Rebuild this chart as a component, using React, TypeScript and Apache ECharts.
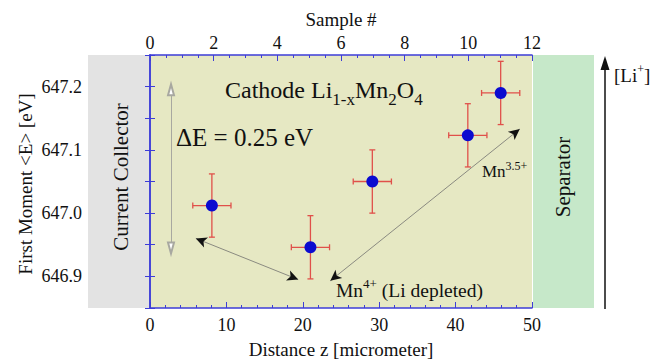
import React, { useEffect, useRef } from "react";
import * as echarts from "echarts";

// ---- data ----
const distance = [8.1, 21.0, 29.1, 41.6, 45.9]; // micrometer
const energy = [647.012, 646.946, 647.05, 647.123, 647.19]; // eV
const distanceErr = [2.5, 2.5, 2.5, 2.5, 2.5];
const energyErr = [0.05, 0.05, 0.05, 0.05, 0.05];

const distanceRange = [0, 50];
const sampleRange = [0, 12];
const energyRange = [646.85, 647.25];

// annotation arrows (data coordinates)
const arrowLower = [[6.0, 646.96], [19.4, 646.895]];
const arrowUpper = [[23.6, 646.893], [48.4, 647.133]];
const deltaEArrow = [[2.75, 646.945], [2.75, 647.195]];

const SERIF = "'Liberation Serif', 'Times New Roman', serif";
const BLUE_AXIS = "#3d3dd8";

export default function App() {
  const ref = useRef<HTMLDivElement>(null);

  useEffect(() => {
    if (!ref.current) return;
    const chart = echarts.init(ref.current, undefined, { renderer: "svg" });

    const errData = distance.map((d, i) => [d, energy[i], distanceErr[i], energyErr[i]]);
    const ptData = distance.map((d, i) => [d, energy[i]]);

    const axisCommon = {
      axisLine: { show: true, lineStyle: { color: BLUE_AXIS, width: 1.5 } },
      splitLine: { show: false },
      axisLabel: { fontFamily: SERIF, fontSize: 18, color: "#111" },
    };

    const arrowPairs = [
      [{ coord: arrowLower[0] }, { coord: arrowLower[1] }],
      [{ coord: arrowUpper[0] }, { coord: arrowUpper[1] }],
    ];

    const option: any = {
      animation: false,
      backgroundColor: "#ffffff",
      grid: {
        left: 150,
        right: 134,
        top: 55,
        bottom: 51,
        show: true,
        backgroundColor: "#e6e8c3",
        borderWidth: 0,
      },
      xAxis: [
        {
          ...axisCommon,
          type: "value",
          position: "bottom",
          min: distanceRange[0],
          max: distanceRange[1],
          interval: 10,
          axisTick: { show: true, inside: true, length: 6, lineStyle: { color: BLUE_AXIS } },
          minorTick: { show: true, splitNumber: 5, length: 3, lineStyle: { color: BLUE_AXIS } },
          axisLabel: { ...axisCommon.axisLabel, margin: 8 },
        },
        {
          ...axisCommon,
          type: "value",
          position: "top",
          min: sampleRange[0],
          max: sampleRange[1],
          interval: 2,
          axisTick: { show: true, inside: true, length: 6, lineStyle: { color: BLUE_AXIS } },
          minorTick: { show: true, splitNumber: 4, length: 3, lineStyle: { color: BLUE_AXIS } },
          axisLabel: { ...axisCommon.axisLabel, margin: 3 },
        },
      ],
      yAxis: [
        {
          ...axisCommon,
          type: "value",
          position: "left",
          min: energyRange[0],
          max: energyRange[1],
          interval: 0.05,
          axisTick: { show: true, inside: true, length: 5, lineStyle: { color: BLUE_AXIS } },
          axisLabel: {
            ...axisCommon.axisLabel,
            margin: 68,
            formatter: (v: number) => {
              const r = Math.round(v * 100);
              if (r % 10 !== 0) return "";
              if (r <= Math.round(energyRange[0] * 100) || r >= Math.round(energyRange[1] * 100)) return "";
              return (r / 100).toFixed(1);
            },
          },
        },
        {
          ...axisCommon,
          type: "value",
          position: "right",
          min: energyRange[0],
          max: energyRange[1],
          interval: 0.05,
          axisTick: { show: true, inside: true, length: 5, lineStyle: { color: BLUE_AXIS } },
          axisLabel: { show: false },
        },
      ],
      graphic: [
        // side panels
        { type: "rect", shape: { x: 88, y: 55, width: 62, height: 253 }, style: { fill: "#e3e3e3" }, z: -10, silent: true },
        { type: "rect", shape: { x: 533, y: 55, width: 61, height: 253 }, style: { fill: "#c6e8c9" }, z: -10, silent: true },
        // Li+ arrow
        { type: "line", shape: { x1: 605, y1: 309, x2: 605, y2: 66 }, style: { stroke: "#111", lineWidth: 1.5 } },
        { type: "polygon", shape: { points: [[605, 56], [600.5, 70], [609.5, 70]] }, style: { fill: "#111" } },
        {
          type: "text",
          x: 614,
          y: 62.5,
          style: {
            text: "[Li{sup|+}]",
            fontFamily: SERIF,
            fontSize: 19,
            lineHeight: 26,
            fill: "#111",
            verticalAlign: "top",
            rich: { sup: { fontFamily: SERIF, fontSize: 12, lineHeight: 6, verticalAlign: "top", fill: "#111" } },
          },
        },
        // axis names
        {
          type: "text",
          x: 341,
          y: 19,
          style: { text: "Sample #", fontFamily: SERIF, fontSize: 19, fill: "#111", align: "center", verticalAlign: "middle" },
        },
        {
          type: "text",
          x: 341,
          y: 349,
          style: { text: "Distance z [micrometer]", fontFamily: SERIF, fontSize: 19, fill: "#111", align: "center", verticalAlign: "middle" },
        },
        {
          type: "text",
          x: 25,
          y: 184,
          rotation: Math.PI / 2,
          style: { text: "First Moment <E> [eV]", fontFamily: SERIF, fontSize: 19, fill: "#111", align: "center", verticalAlign: "middle" },
        },
        {
          type: "text",
          x: 121,
          y: 177,
          rotation: Math.PI / 2,
          style: { text: "Current Collector", fontFamily: SERIF, fontSize: 21, fill: "#111", align: "center", verticalAlign: "middle" },
        },
        {
          type: "text",
          x: 563,
          y: 177,
          rotation: Math.PI / 2,
          style: { text: "Separator", fontFamily: SERIF, fontSize: 21, fill: "#111", align: "center", verticalAlign: "middle" },
        },
        // in-plot annotations
        {
          type: "text",
          x: 225,
          y: 72,
          z: 100,
          style: {
            text: "Cathode Li{sub|1-x}Mn{sub|2}O{sub|4}",
            fontFamily: SERIF,
            fontSize: 24,
            lineHeight: 36,
            fill: "#111",
            verticalAlign: "top",
            rich: { sub: { fontFamily: SERIF, fontSize: 17, lineHeight: 4, verticalAlign: "bottom", fill: "#111" } },
          },
        },
        {
          type: "text",
          x: 176,
          y: 137,
          z: 100,
          style: { text: "\u0394E = 0.25 eV", fontFamily: SERIF, fontSize: 25, fill: "#111", verticalAlign: "middle" },
        },
        {
          type: "text",
          x: 336,
          y: 277,
          z: 100,
          style: {
            text: "Mn{sup|4+} (Li depleted)",
            fontFamily: SERIF,
            fontSize: 19.5,
            lineHeight: 27,
            fill: "#111",
            verticalAlign: "top",
            rich: { sup: { fontFamily: SERIF, fontSize: 13, lineHeight: 6, verticalAlign: "top", fill: "#111" } },
          },
        },
        {
          type: "text",
          x: 482,
          y: 160,
          z: 100,
          style: {
            text: "Mn{sup|3.5+}",
            fontFamily: SERIF,
            fontSize: 17,
            lineHeight: 22,
            fill: "#111",
            verticalAlign: "top",
            rich: { sup: { fontFamily: SERIF, fontSize: 12, lineHeight: 5, verticalAlign: "top", fill: "#111" } },
          },
        },
      ],
      series: [
        {
          type: "custom",
          xAxisIndex: 0,
          yAxisIndex: 0,
          data: errData,
          encode: { x: 0, y: 1 },
          z: 3,
          silent: true,
          renderItem: (params: any, api: any) => {
            const x = api.value(0);
            const y = api.value(1);
            const xe = api.value(2);
            const ye = api.value(3);
            const l = api.coord([x - xe, y]);
            const r = api.coord([x + xe, y]);
            const t = api.coord([x, y + ye]);
            const b = api.coord([x, y - ye]);
            const cap = 3;
            const st = { stroke: "#e0504a", lineWidth: 1.3 };
            return {
              type: "group",
              children: [
                { type: "line", shape: { x1: l[0], y1: l[1], x2: r[0], y2: r[1] }, style: st },
                { type: "line", shape: { x1: t[0], y1: t[1], x2: b[0], y2: b[1] }, style: st },
                { type: "line", shape: { x1: l[0], y1: l[1] - cap, x2: l[0], y2: l[1] + cap }, style: st },
                { type: "line", shape: { x1: r[0], y1: r[1] - cap, x2: r[0], y2: r[1] + cap }, style: st },
                { type: "line", shape: { x1: t[0] - cap, y1: t[1], x2: t[0] + cap, y2: t[1] }, style: st },
                { type: "line", shape: { x1: b[0] - cap, y1: b[1], x2: b[0] + cap, y2: b[1] }, style: st },
              ],
            };
          },
        },
        {
          type: "scatter",
          xAxisIndex: 0,
          yAxisIndex: 0,
          data: ptData,
          symbol: "circle",
          symbolSize: 12,
          itemStyle: { color: "#0b0bd0", opacity: 1 },
          z: 5,
          silent: true,
          markLine: {
            silent: true,
            symbol: ["none", "none"],
            label: { show: false },
            lineStyle: { color: "#8a8a80", width: 1, type: "solid" },
            data: arrowPairs,
          },
        },
        {
          type: "scatter",
          xAxisIndex: 0,
          yAxisIndex: 0,
          data: [],
          silent: true,
          markLine: {
            silent: true,
            symbol: ["arrow", "arrow"],
            symbolSize: [8, 11],
            label: { show: false },
            lineStyle: { color: "#111111", width: 0, type: "solid" },
            data: arrowPairs,
          },
        },
        {
          type: "scatter",
          xAxisIndex: 0,
          yAxisIndex: 0,
          data: [],
          silent: true,
          markLine: {
            silent: true,
            symbol: ["emptyTriangle", "emptyTriangle"],
            symbolSize: [6, 11],
            label: { show: false },
            lineStyle: { color: "#a8a8a0", width: 1, type: "solid" },
            data: [[{ coord: deltaEArrow[0] }, { coord: deltaEArrow[1] }]],
          },
        },
      ],
    };

    chart.setOption(option);
    return () => chart.dispose();
  }, []);

  return <div ref={ref} style={{ position: "fixed", left: 0, top: 0, width: 666, height: 359 }} />;
}
